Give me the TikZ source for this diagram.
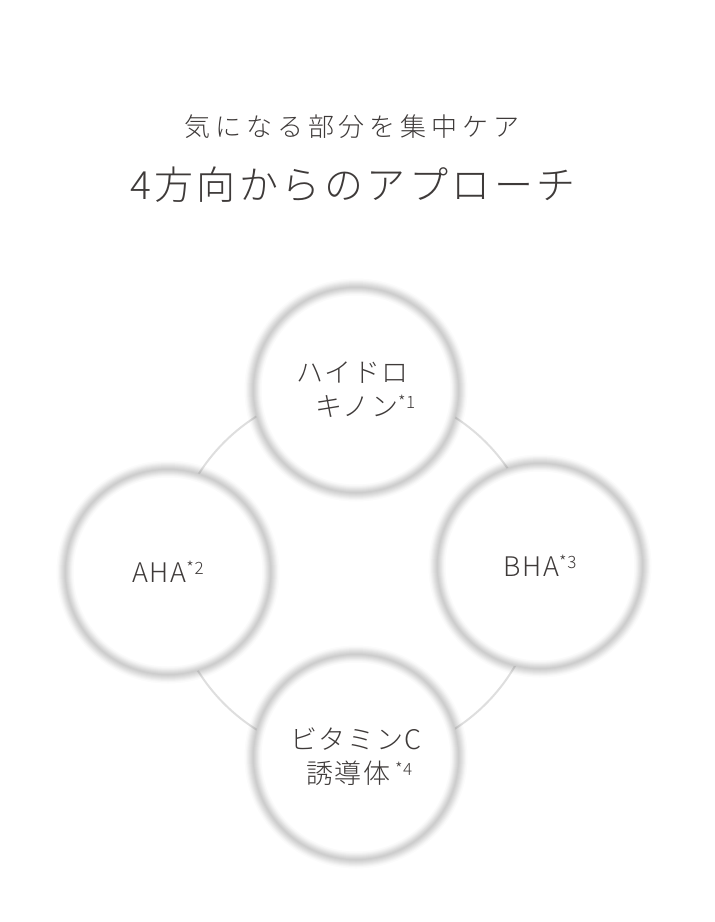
\documentclass[tikz,border=0pt]{standalone}
\usepackage{fontspec}
\setmainfont{Noto Sans CJK JP}[UprightFont=* Light]
\definecolor{ink}{RGB}{62,58,57}
\definecolor{haze}{RGB}{145,145,145}
\definecolor{link}{RGB}{222,222,222}
\newcommand{\fn}[1]{\raisebox{.3em}{\fontsize{17}{17}\selectfont\addfontfeatures{LetterSpace=4}*#1}}
\tikzset{
  bubble/.style={circle,minimum size=206pt,inner sep=0pt,fill=white,text=ink,align=left,
    font=\fontsize{27}{34}\selectfont\addfontfeatures{LetterSpace=6},
    postaction={draw=haze,line width=17pt,opacity=.04},
    postaction={draw=haze,line width=14pt,opacity=.05},
    postaction={draw=haze,line width=12pt,opacity=.06},
    postaction={draw=haze,line width=10pt,opacity=.07},
    postaction={draw=haze,line width=8pt,opacity=.08},
    postaction={draw=haze,line width=6pt,opacity=.08},
    postaction={draw=haze,line width=4pt,opacity=.08},
    postaction={draw=haze,line width=2pt,opacity=.08}},
  heading/.style={text=ink,inner sep=0pt}
}
\begin{document}
\begin{tikzpicture}
[x=1pt,y=-1pt]
\useasboundingbox (0,0) rectangle (715,922);
\node [heading,font=\fontsize{26}{30}\selectfont\addfontfeatures{LetterSpace=19}] (lead) at (352,127) {気になる部分を集中ケア};
\node [heading,font=\fontsize{39}{44}\selectfont\addfontfeatures{LetterSpace=9}] (headline) at (353,185) {4方向からのアプローチ};
\coordinate (mid) at (355,573);
\draw [link,line width=2pt] (mid) circle [radius=185pt];
\node [bubble] (hq) at (356,390) {ハイドロ\\\hspace*{19pt}キノン\fn{1}};
\node [bubble] (aha) at (168,572) {AHA\fn{2}};
\node [bubble] (bha) at (540,566) {BHA\fn{3}};
\node [bubble] (vcd) at (356,757) {ビタミンC\\\hspace*{16pt}誘導体\,\fn{4}};
\end{tikzpicture}
\end{document}
